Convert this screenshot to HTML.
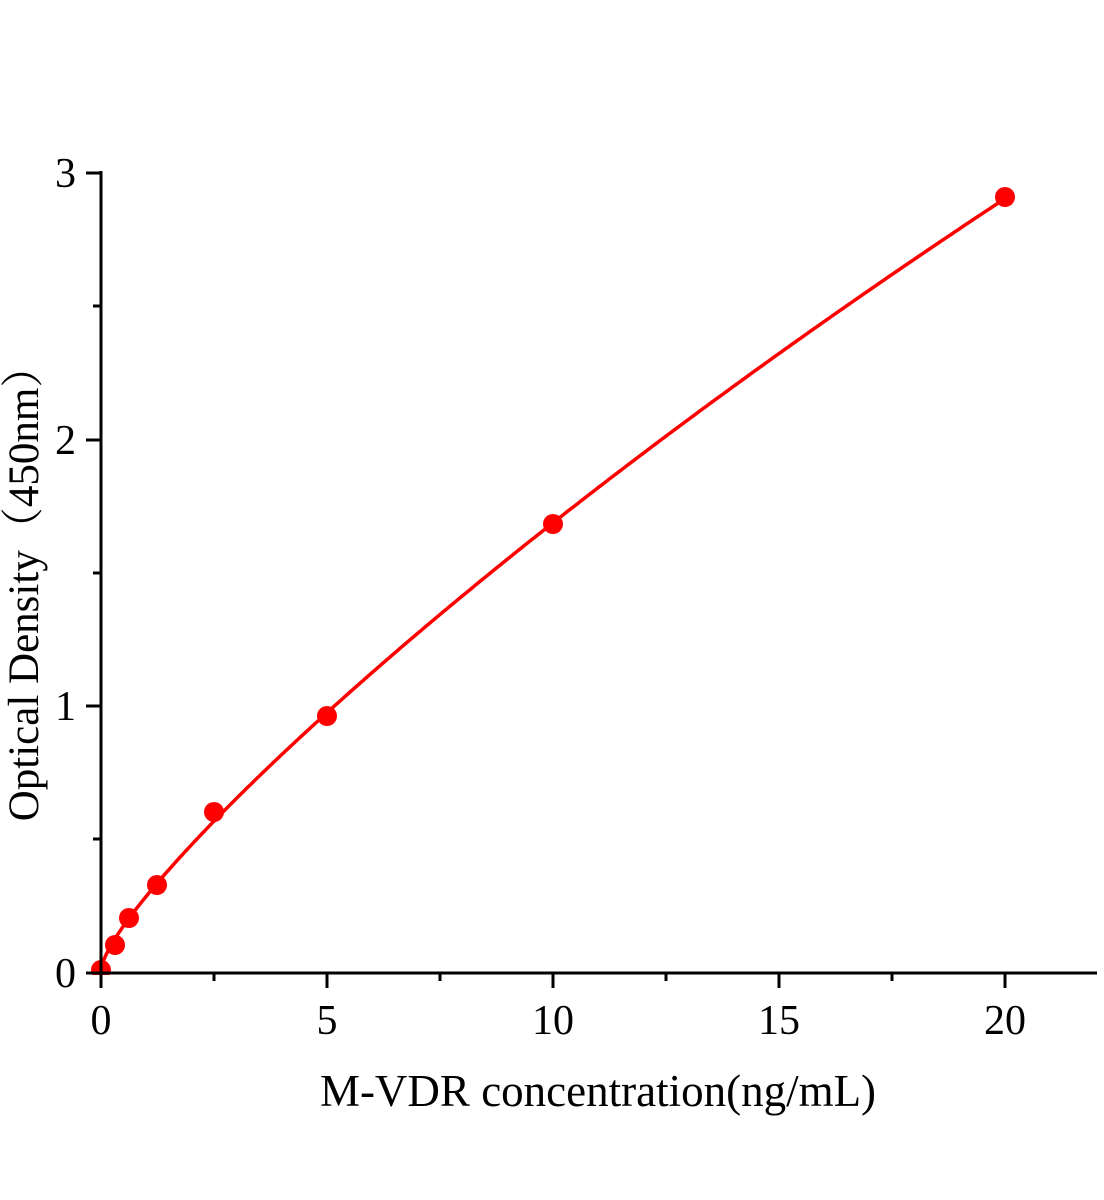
<!DOCTYPE html>
<html><head><meta charset="utf-8"><style>body{margin:0;background:#fff}svg{display:block}</style></head>
<body>
<svg id="s" width="1104" height="1200" xmlns="http://www.w3.org/2000/svg" font-family="Liberation Serif, serif">
<path id="curve" fill="none" stroke="#f00" stroke-width="3.5"/>
<g fill="#f00">
<circle cx="101" cy="970" r="10"/>
<circle cx="115" cy="945" r="10"/>
<circle cx="129" cy="918" r="10"/>
<circle cx="157" cy="885" r="10"/>
<circle cx="214" cy="812" r="10"/>
<circle cx="327" cy="716" r="10"/>
<circle cx="553" cy="524" r="10"/>
<circle cx="1005" cy="197" r="10"/>
</g>
<rect x="0" y="975" width="1104" height="30" fill="#fff"/>
<g stroke="#000" stroke-width="3" fill="none">
<line x1="86" y1="973" x2="1097" y2="973"/>
<line x1="101" y1="171" x2="101" y2="988"/>
<line x1="86" y1="173" x2="101" y2="173"/>
<line x1="86" y1="440" x2="101" y2="440"/>
<line x1="86" y1="706" x2="101" y2="706"/>
<line x1="93" y1="306" x2="101" y2="306"/>
<line x1="93" y1="573" x2="101" y2="573"/>
<line x1="93" y1="839" x2="101" y2="839"/>
<line x1="327" y1="973" x2="327" y2="988"/>
<line x1="553" y1="973" x2="553" y2="988"/>
<line x1="779" y1="973" x2="779" y2="988"/>
<line x1="1005" y1="973" x2="1005" y2="988"/>
<line x1="214" y1="973" x2="214" y2="981"/>
<line x1="440" y1="973" x2="440" y2="981"/>
<line x1="666" y1="973" x2="666" y2="981"/>
<line x1="892" y1="973" x2="892" y2="981"/>
</g>
<g font-size="42" text-anchor="middle">
<text x="101" y="1034">0</text>
<text x="327" y="1034">5</text>
<text x="553" y="1034">10</text>
<text x="779" y="1034">15</text>
<text x="1005" y="1034">20</text>
</g>
<g font-size="42" text-anchor="end">
<text x="76" y="987">0</text>
<text x="76" y="720">1</text>
<text x="76" y="454">2</text>
<text x="76" y="187">3</text>
</g>
<text x="598" y="1106" font-size="45" text-anchor="middle">M-VDR concentration(ng/mL)</text>
<text transform="translate(38,583) rotate(-90)" font-size="43" text-anchor="middle" font-family="Liberation Serif, Noto Serif CJK SC, serif">Optical Density（450nm）</text>
</svg>
<script>
var X=[0,0.3125,0.625,1.25,2.5,5,10,20],Y=[0,0.1,0.2,0.33,0.6,0.965,1.68,2.905];
function B(x){var s=Math.sqrt(x);return [s,s*s,s*s*s];}
var A=[[0,0,0],[0,0,0],[0,0,0]],b=[0,0,0];
for(var i=0;i<X.length;i++){var f=B(X[i]),w=(i==X.length-1)?4:1;for(var r=0;r<3;r++){b[r]+=w*f[r]*Y[i];for(var c=0;c<3;c++)A[r][c]+=w*f[r]*f[c];}}
for(var p=0;p<3;p++){for(var r=p+1;r<3;r++){var m=A[r][p]/A[p][p];for(var c=p;c<3;c++)A[r][c]-=m*A[p][c];b[r]-=m*b[p];}}
var co=[0,0,0];for(var r=2;r>=0;r--){var s=b[r];for(var c=r+1;c<3;c++)s-=A[r][c]*co[c];co[r]=s/A[r][r];}
var d="";for(var k=0;k<=500;k++){var x=20*Math.pow(k/500,2),f=B(x),y=co[0]*f[0]+co[1]*f[1]+co[2]*f[2];
d+=(k?"L":"M")+(101+x*45.2).toFixed(1)+","+(972-y*266.3).toFixed(1);}
document.getElementById("curve").setAttribute("d",d);
</script>
</body></html>
